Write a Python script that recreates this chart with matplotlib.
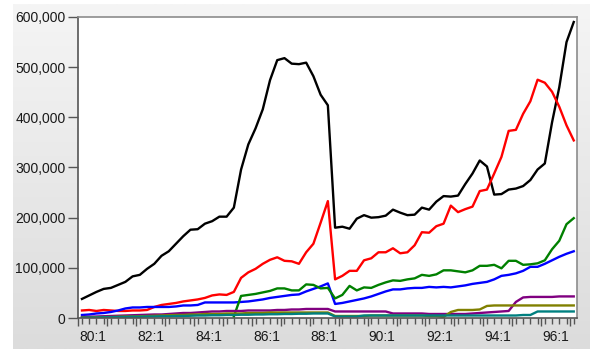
import numpy as np
import matplotlib.pyplot as plt
from matplotlib.colors import LinearSegmentedColormap
from matplotlib.transforms import blended_transform_factory

plt.rcParams['font.family'] = ['Liberation Sans', 'DejaVu Sans']

# quarterly observations 80:1 .. 97:1
first_year = 80
label_years = [80, 82, 84, 86, 88, 90, 92, 94, 96]

black = [38000, 45000, 52000, 58000, 60000, 66000, 72000, 83000, 86000, 98000,
         108000, 124000, 133000, 148000, 163000, 176000, 177000, 188000, 193000, 202000,
         202000, 220000, 296000, 346000, 378000, 416000, 474000, 514000, 518000, 507000,
         506000, 509000, 482000, 445000, 424000, 180000, 182000, 178000, 198000, 205000,
         200000, 201000, 204000, 216000, 210000, 205000, 206000, 220000, 216000, 232000,
         243000, 242000, 244000, 267000, 288000, 314000, 302000, 246000, 247000, 256000,
         258000, 263000, 275000, 296000, 308000, 390000, 460000, 550000, 590000]

red = [15000, 16000, 14000, 16000, 15000, 14000, 14000, 15000, 15000, 16000,
       22000, 26000, 28000, 30000, 33000, 35000, 37000, 40000, 45000, 47000,
       46000, 52000, 80000, 91000, 98000, 108000, 116000, 121000, 114000, 113000,
       108000, 131000, 148000, 190000, 233000, 77000, 84000, 94000, 94000, 115000,
       119000, 131000, 131000, 139000, 129000, 131000, 145000, 171000, 170000, 183000,
       188000, 224000, 211000, 217000, 222000, 253000, 256000, 288000, 321000, 373000,
       375000, 407000, 432000, 475000, 469000, 451000, 421000, 384000, 354000]

blue = [6000, 7000, 9000, 10000, 12000, 15000, 19000, 21000, 21000, 22000,
        22000, 22000, 22000, 23000, 25000, 25000, 26000, 31000, 31000, 31000,
        31000, 31000, 32000, 33000, 35000, 37000, 40000, 42000, 44000, 46000,
        47000, 53000, 58000, 63000, 69000, 28000, 30000, 33000, 36000, 39000,
        43000, 48000, 53000, 57000, 57000, 59000, 60000, 60000, 62000, 61000,
        62000, 61000, 63000, 65000, 68000, 70000, 72000, 77000, 84000, 86000,
        89000, 94000, 102000, 102000, 108000, 115000, 122000, 128000, 133000]

nan = np.nan
green = [nan, nan, nan, nan, nan, nan, nan, nan, nan, nan,
         nan, nan, nan, nan, nan, nan, nan, nan, nan, nan,
         nan, 3000, 44000, 46000, 48000, 51000, 54000, 59000, 59000, 55000,
         55000, 67000, 66000, 59000, 60000, 39000, 46000, 64000, 55000, 61000,
         60000, 66000, 71000, 75000, 74000, 77000, 79000, 86000, 84000, 87000,
         95000, 95000, 93000, 91000, 95000, 104000, 104000, 106000, 99000, 114000,
         114000, 106000, 107000, 109000, 115000, 137000, 154000, 187000, 199000]

purple = [2000, 2500, 3000, 3500, 4000, 4500, 5000, 5500, 6000, 6500,
          7000, 7000, 8000, 9000, 10000, 10000, 11000, 12000, 13000, 13000,
          14000, 14000, 14000, 15000, 15000, 15000, 15000, 16000, 16000, 17000,
          17000, 18000, 18000, 18000, 18000, 13000, 13000, 13000, 13000, 13000,
          13000, 13000, 13000, 9000, 9000, 9000, 9000, 9000, 8000, 8000,
          8000, 8000, 8000, 8000, 9000, 10000, 11000, 12000, 13000, 14000,
          32000, 41000, 42000, 42000, 42000, 42000, 43000, 43000, 43000]

olive = [1000, 1000, 1500, 2000, 2000, 2500, 3000, 3000, 3500, 4000,
         4500, 5000, 5500, 6000, 6000, 7000, 7000, 8000, 8000, 8000,
         9000, 9000, 9000, 10000, 10000, 10000, 11000, 11000, 11000, 11000,
         11000, 11000, 11000, 11000, 11000, 4000, 4000, 4000, 4000, 4000,
         5000, 5000, 5000, 5000, 5000, 5000, 5000, 5000, 4000, 4000,
         2000, 12000, 16000, 16000, 16000, 17000, 24000, 25000, 25000, 25000,
         25000, 25000, 25000, 25000, 25000, 25000, 25000, 25000, 25000]

teal = [500, 1000, 1000, 1500, 1500, 2000, 2000, 2500, 2500, 3000,
        3000, 3500, 3500, 4000, 4000, 4500, 5000, 5000, 5500, 5500,
        6000, 6000, 6500, 6500, 7000, 7000, 7500, 7500, 8000, 8000,
        8500, 8500, 9000, 9000, 9000, 3000, 3000, 3000, 3000, 5000,
        5000, 5000, 5000, 5000, 5000, 5000, 5000, 5000, 5000, 5000,
        5000, 5000, 5000, 5000, 5000, 5000, 5000, 5000, 5000, 5000,
        5000, 6000, 6000, 13000, 13000, 13000, 13000, 13000, 13000]

series = [(black, '#000000'), (red, '#ff0000'), (blue, '#0000ff'),
          (green, '#008000'), (purple, '#800080'), (olive, '#808000'),
          (teal, '#008080')]

W, H = 595, 349
fig = plt.figure(figsize=(W / 100, H / 100), dpi=100, facecolor='white')

# grey panel behind the graph
bg = fig.add_axes([13 / W, 0, 577 / W, 345 / H])
panel = LinearSegmentedColormap.from_list('panel', ['#f5f5f5', '#dcdcdc'])
bg.imshow(np.linspace(0, 1, 256).reshape(-1, 1), cmap=panel, aspect='auto',
          extent=[0, 1, 0, 1])
bg.axis('off')

ax = fig.add_axes([78 / W, 1 - 318 / H, 499 / W, 301 / H])
ax.set_facecolor('white')
n_obs = len(black)
x = np.arange(n_obs)
for vals, color in series:
    ax.plot(x, vals, color=color, lw=1.7, solid_joinstyle='round')

ax.set_xlim(-0.55, n_obs - 0.55)
ax.set_ylim(0, 600000)

# year boundaries as major ticks, one minor tick per quarter
ax.set_xticks(np.arange(-0.5, n_obs, 4))
ax.set_xticklabels([])
ax.set_xticks(x, minor=True)
ax.tick_params(axis='x', which='major', direction='out', length=6, width=1, color='#555555')
ax.tick_params(axis='x', which='minor', direction='out', length=4, width=1, color='#555555')

trans = blended_transform_factory(ax.transData, ax.transAxes)
for yr in label_years:
    pos = (yr - first_year) * 4 + 1.5
    ax.text(pos, -0.062, f'{yr}:1', transform=trans, ha='center', va='center',
            fontsize=10, color='#1a1a1a')

yt = np.arange(0, 600001, 100000)
ax.set_yticks(yt)
ax.set_yticklabels([f'{v:,}' for v in yt], fontsize=10, color='#1a1a1a')
ax.tick_params(axis='y', direction='out', length=7, width=1, pad=2, color='#555555')

for side in ['left', 'bottom']:
    ax.spines[side].set_color('#555555')
    ax.spines[side].set_linewidth(1.2)
for side in ['top', 'right']:
    ax.spines[side].set_color('#8c8c8c')
    ax.spines[side].set_linewidth(1.2)

fig.savefig('out.png', dpi=100, facecolor='white')
